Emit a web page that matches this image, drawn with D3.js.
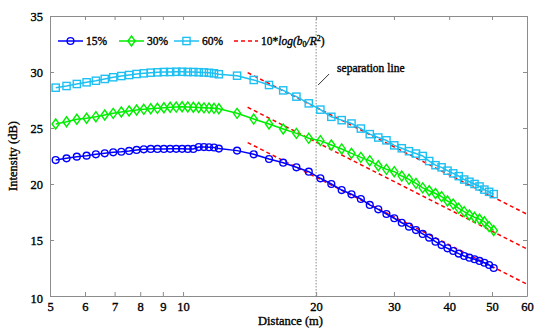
<!DOCTYPE html>
<html>
<head>
<meta charset="utf-8">
<script src="https://cdn.jsdelivr.net/npm/d3@7/dist/d3.min.js"></script>
<style>
body { margin: 0; background: #fff; }
text { font-family: "Liberation Serif", "DejaVu Serif", serif; fill: #000; stroke: #000; stroke-width: 0.35px; }
</style>
</head>
<body>
<div id="chart"></div>
<script>
// measured distances (m)
const distance = [5.15, 5.45, 5.75, 6.05, 6.35, 6.65, 6.95, 7.25, 7.55, 7.85, 8.15, 8.45, 8.75, 9.05, 9.35, 9.65, 9.95, 10.25, 10.55, 10.85, 11.15, 11.45, 11.75, 12.05,
  13.25, 14.45, 15.65, 16.85, 18.05, 19.25,
  20.45, 21.65, 22.85, 24.05, 25.25, 26.45, 27.65, 28.85, 30.05, 31.25, 32.45, 33.65, 34.85, 36.05, 37.25, 38.45, 39.65, 40.85, 42.05, 43.25, 44.45, 45.65, 46.85, 48.05, 49.25, 50.45];

const i15 = [22.14, 22.29, 22.44, 22.53, 22.65, 22.74, 22.83, 22.88, 22.95, 23.04, 23.1, 23.13, 23.13, 23.13, 23.14, 23.14, 23.14, 23.13, 23.13, 23.3, 23.3, 23.28, 23.26, 23.16,
  22.98, 22.65, 22.23, 21.9, 21.49, 21.1,
  20.51, 20.0, 19.46, 19.08, 18.66, 18.13, 17.74, 17.32, 16.94, 16.54, 16.19, 15.89, 15.54, 15.21, 14.85, 14.55, 14.26, 14.02, 13.78, 13.57, 13.42, 13.28, 13.13, 12.97, 12.77, 12.5];

const i30 = [25.36, 25.56, 25.78, 25.87, 26.01, 26.16, 26.31, 26.43, 26.52, 26.61, 26.67, 26.72, 26.76, 26.81, 26.85, 26.87, 26.9, 26.88, 26.85, 26.83, 26.8, 26.78, 26.76, 26.72,
  26.31, 25.8, 25.36, 24.91, 24.52, 24.08,
  23.87, 23.48, 23.13, 22.74, 22.38, 22.08, 21.63, 21.31, 21.1, 20.71, 20.42, 20.06, 19.65, 19.4, 19.15, 18.87, 18.48, 18.21, 17.83, 17.53, 17.23, 17.03, 16.85, 16.63, 16.19, 15.85];

const i60 = [28.6, 28.75, 28.93, 29.08, 29.22, 29.38, 29.53, 29.64, 29.73, 29.82, 29.88, 29.94, 29.97, 30.0, 30.0, 30.02, 30.02, 30.0, 30.0, 29.98, 29.96, 29.93, 29.88, 29.8,
  29.67, 29.29, 28.84, 28.36, 27.8, 27.2,
  26.64, 26.0, 25.7, 25.4, 24.95, 24.45, 24.15, 23.9, 23.45, 23.19, 22.93, 22.72, 22.5, 22.05, 21.68, 21.49, 21.19, 20.95, 20.7, 20.4, 20.2, 20.0, 19.78, 19.5, 19.3, 19.1];

// 10*log(b0/R^2) fits: straight on a log axis, so two ends each
const fitRange = [14, 60];
const fit15 = [23.7, 11.05];
const fit30 = [26.85, 14.2];
const fit60 = [29.94, 17.3];

const seriesNames = ['15%', '30%', '60%'];
const xTicks = [5, 6, 7, 8, 9, 10, 20, 30, 40, 50, 60];
const yTicks = [10, 15, 20, 25, 30, 35];
const separationAt = 20;

window.onload = init;

function init()
{
    const width = 550, height = 333;
    const m = {left: 50, right: 23, top: 16, bottom: 37};
    const svg = d3.select('#chart').append('svg').attr('width', width).attr('height', height);

    const x = d3.scaleLog().domain([5, 60]).range([m.left, width - m.right]);
    const y = d3.scaleLinear().domain([10, 35]).range([height - m.bottom, m.top]);

    const axisColor = '#8c8c8c';
    const fmt = d => d;

    // axes, ticks pointing inward like matlab
    const gx = svg.append('g').attr('transform', `translate(0,${height - m.bottom})`)
        .call(d3.axisBottom(x).tickValues(xTicks).tickFormat(fmt).tickSizeInner(-4).tickSizeOuter(0).tickPadding(8));
    const gxt = svg.append('g').attr('transform', `translate(0,${m.top})`)
        .call(d3.axisTop(x).tickValues(xTicks).tickFormat('').tickSizeInner(-4).tickSizeOuter(0));
    const gy = svg.append('g').attr('transform', `translate(${m.left},0)`)
        .call(d3.axisLeft(y).tickValues(yTicks).tickSizeInner(-4).tickSizeOuter(0).tickPadding(7));
    const gyr = svg.append('g').attr('transform', `translate(${width - m.right},0)`)
        .call(d3.axisRight(y).tickValues(yTicks).tickFormat('').tickSizeInner(-4).tickSizeOuter(0));

    [gx, gxt, gy, gyr].forEach(g => {
        g.select('.domain').attr('stroke', axisColor);
        g.selectAll('.tick line').attr('stroke', axisColor);
        g.selectAll('.tick text').style('font-size', '12.5px').attr('fill', '#000');
    });
    gx.selectAll('.tick text').attr('dy', '0.55em');
    // 10 label sits a bit low in the reference
    gy.selectAll('.tick text').filter(d => d === 10).attr('dy', '0.55em');

    // separation line
    svg.append('line')
        .attr('x1', x(separationAt)).attr('x2', x(separationAt))
        .attr('y1', m.top).attr('y2', height - m.bottom)
        .attr('stroke', '#8c8c8c').attr('stroke-width', 1).attr('stroke-dasharray', '1.5,1.5');

    svg.append('line')
        .attr('x1', x(separationAt) + 13).attr('y1', 74)
        .attr('x2', x(separationAt) + 2).attr('y2', 85)
        .attr('stroke', '#000').attr('stroke-width', 0.8);
    svg.append('text').attr('x', x(separationAt) + 21).attr('y', 72)
        .style('font-size', '11.5px').text('separation line');

    // fitted red lines
    [fit15, fit30, fit60].forEach(f => {
        svg.append('line')
            .attr('x1', x(fitRange[0])).attr('y1', y(f[0]))
            .attr('x2', x(fitRange[1])).attr('y2', y(f[1]))
            .attr('stroke', '#ff0000').attr('stroke-width', 1.5).attr('stroke-dasharray', '4,3');
    });

    const series = [
        {name: seriesNames[0], values: i15, color: '#0000ff', marker: 'circle'},
        {name: seriesNames[1], values: i30, color: '#00ee00', marker: 'diamond'},
        {name: seriesNames[2], values: i60, color: '#1ec0f2', marker: 'square'}
    ];

    const line = d3.line().x(d => x(d[0])).y(d => y(d[1]));

    function marker(g, type, color) {
        if (type === 'circle') {
            g.append('circle').attr('r', 3.4);
        } else if (type === 'diamond') {
            g.append('path').attr('d', 'M0,-5L3.6,0L0,5L-3.6,0Z');
        } else {
            g.append('rect').attr('x', -3.6).attr('y', -3.6).attr('width', 7.2).attr('height', 7.2);
        }
        g.selectAll('*').attr('fill', 'none').attr('stroke', color).attr('stroke-width', 1.4);
    }

    series.forEach(s => {
        const pts = distance.map((d, i) => [d, s.values[i]]);
        svg.append('path').datum(pts).attr('d', line)
            .attr('fill', 'none').attr('stroke', s.color).attr('stroke-width', 1.5);
        svg.append('g').selectAll('g').data(pts).enter().append('g')
            .attr('transform', d => `translate(${x(d[0])},${y(d[1])})`)
            .each(function () { marker(d3.select(this), s.marker, s.color); });
    });

    // legend
    const legY = 41;
    const legX = [58, 119, 174];
    series.forEach((s, i) => {
        svg.append('line').attr('x1', legX[i]).attr('x2', legX[i] + 25).attr('y1', legY).attr('y2', legY)
            .attr('stroke', s.color).attr('stroke-width', 1.5);
        const g = svg.append('g').attr('transform', `translate(${legX[i] + 12.5},${legY})`);
        marker(g, s.marker, s.color);
        svg.append('text').attr('x', legX[i] + 28).attr('y', legY + 4).style('font-size', '11.5px').text(s.name);
    });
    svg.append('line').attr('x1', 234).attr('x2', 258).attr('y1', legY).attr('y2', legY)
        .attr('stroke', '#ff0000').attr('stroke-width', 1.5).attr('stroke-dasharray', '4,3');
    const lt = svg.append('text').attr('x', 261).attr('y', legY + 4).style('font-size', '11.5px');
    lt.append('tspan').text('10*');
    lt.append('tspan').style('font-style', 'italic').text('log(b');
    lt.append('tspan').style('font-size', '8px').attr('dy', 2).text('0');
    lt.append('tspan').style('font-style', 'italic').attr('dy', -2).text('/R');
    lt.append('tspan').style('font-size', '8px').attr('dy', -4).text('2');
    lt.append('tspan').attr('dy', 4).text(')');

    // axis titles
    svg.append('text').attr('x', (m.left + width - m.right) / 2 + 2).attr('y', 325)
        .attr('text-anchor', 'middle').style('font-size', '12.5px').text('Distance (m)');
    svg.append('text').attr('transform', `translate(17,${(m.top + height - m.bottom) / 2}) rotate(-90)`)
        .attr('text-anchor', 'middle').style('font-size', '12.5px').text('Intensity (dB)');
}
</script>
</body>
</html>
